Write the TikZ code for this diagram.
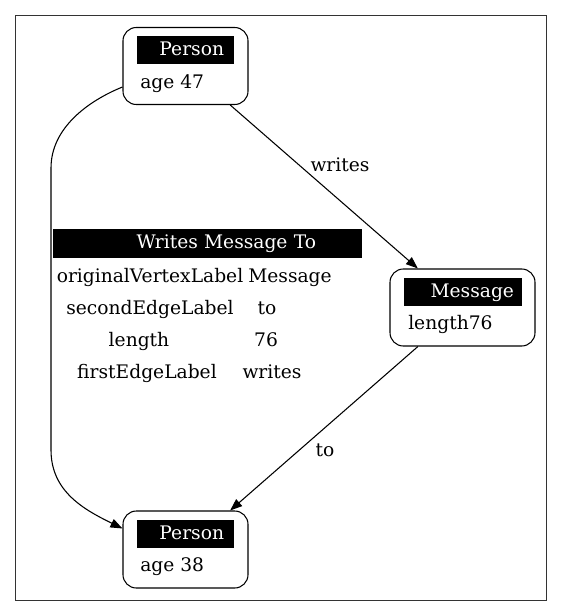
\documentclass[tikz,border=0pt]{standalone}
\usepackage{fontspec}
\setmainfont{DejaVu Serif}
\usepackage{tikz}
\usetikzlibrary{arrows.meta,calc,positioning}

\tikzset{
  vertex/.style={draw, line width=0.8pt, rounded corners=10pt, minimum height=57.75pt, inner sep=0pt},
  header/.style={fill=black, text=white, minimum height=21pt, inner ysep=0pt, text height=11pt, text depth=3pt, align=right},
  field/.style={anchor=base west, inner sep=0pt},
  cell/.style={anchor=base, inner sep=0pt},
  edgelabel/.style={inner sep=0pt},
  link/.style={->, line width=0.8pt},
}

\begin{document}
\begin{tikzpicture}[x=0.75pt, y=-0.75pt, font=\fontsize{14pt}{17pt}\selectfont,
    >={Triangle[length=9pt, width=6.75pt]}]
  \useasboundingbox (0,0) rectangle (563,616);
  \draw[black!80, line width=1pt] (15.5,15.5) rectangle (546.5,600.5);

  % vertices
  \node[vertex, minimum width=93.75pt] (PersonA) at (185.5,66) {};
  \node[header, text width=57.75pt, inner xsep=7.5pt] (PersonAHead) at (185.5,50.5) {Person};
  \node[field] (PersonAAge) at (140,89) {age 47};

  \node[vertex, minimum width=108.75pt] (Message) at (462.5,307.5) {};
  \node[header, text width=76.5pt, inner xsep=6pt] (MessageHead) at (463,292) {Message};
  \node[field] (MessageLength) at (408,329) {length76};

  \node[vertex, minimum width=93.75pt] (PersonB) at (185.5,549.5) {};
  \node[header, text width=57.75pt, inner xsep=7.5pt] (PersonBHead) at (185.5,534) {Person};
  \node[field] (PersonBAge) at (140,571) {age 38};

  % edge table
  \node[header, text width=162.75pt, inner xsep=34.5pt] (EdgeHead) at (207.5,243.5) {Writes Message To};
  \node[cell] (KeyA) at (150,282) {originalVertexLabel};
  \node[cell] (ValA) at (290,282) {Message};
  \node[cell] (KeyB) at (150,314) {secondEdgeLabel};
  \node[cell] (ValB) at (267,314) {to};
  \node[cell] (KeyC) at (139,346) {length};
  \node[cell] (ValC) at (266,346) {76};
  \node[cell] (KeyD) at (147,378) {firstEdgeLabel};
  \node[cell] (ValD) at (272,378) {writes};

  % edges
  \node[edgelabel] (WritesLabel) at (340,165) {writes};
  \node[edgelabel] (ToLabel) at (325,450) {to};
  \draw[link] (PersonA) to (Message);
  \draw[link] (Message) to (PersonB);
  \draw[link] ($(PersonA.west)+(0,21)$) .. controls (88,101) and (51,128) .. (51,168)
    -- (51,450) .. controls (51,492) and (85,510) .. ($(PersonB.west)+(0,-21)$);
\end{tikzpicture}
\end{document}
